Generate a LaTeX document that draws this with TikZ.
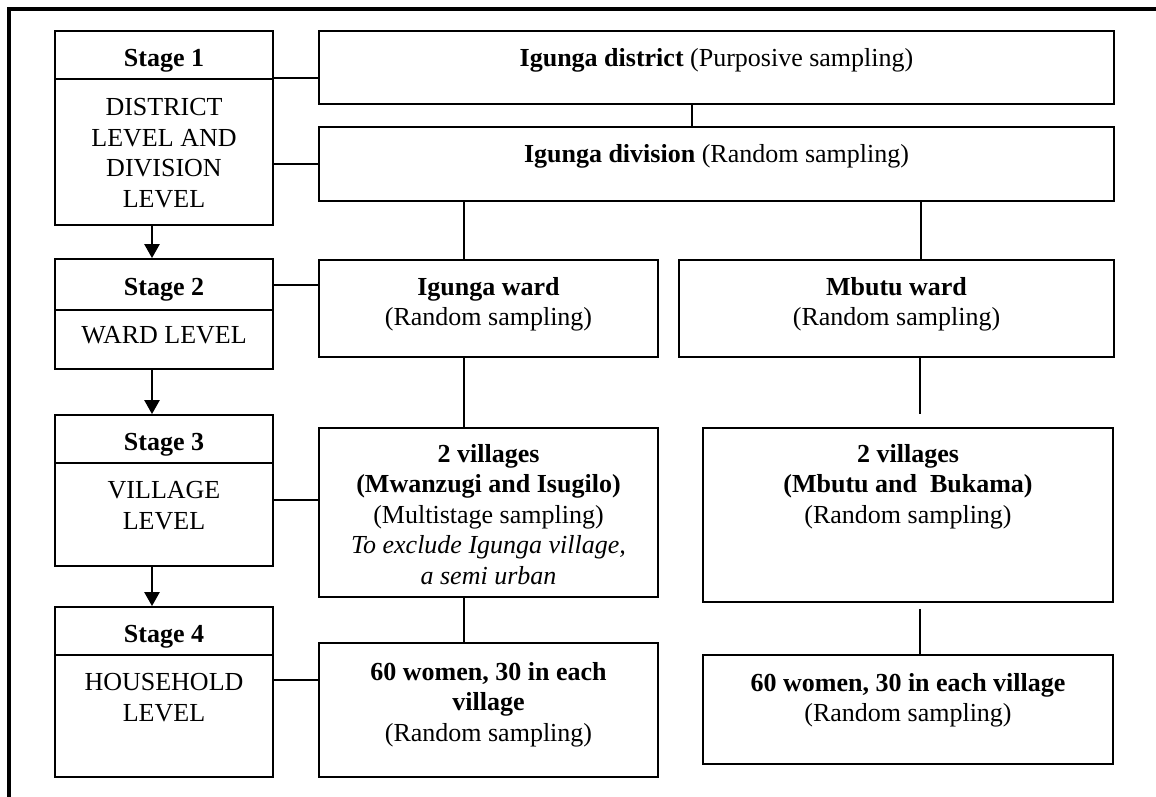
\documentclass[tikz,border=0pt]{standalone}
\usepackage{fontspec}
\setmainfont{Liberation Serif}
\usepackage{tikz}
\usetikzlibrary{arrows.meta}

\tikzset{
    box/.style={draw, rectangle, line width=1.8pt, inner sep=0pt},
    stagebox/.style={box, minimum width=218pt},
    stagehead/.style={stagebox, text height=22pt, text depth=0pt},
    txt/.style={anchor=north, align=center, inner sep=0pt},
    link/.style={line width=2pt},
    down/.style={line width=2.4pt, -{Triangle[width=15pt,length=14pt]}},
    frame/.style={line width=4pt}
}

\begin{document}
\begin{tikzpicture}[x=1pt, y=-1pt, every node/.style={font=\fontsize{26}{30.5}\selectfont}]
        \useasboundingbox (0,0) rectangle (1156,796);
        \draw[frame] (8.5,800) -- (8.5,8.5) -- (1160,8.5);

        \node[stagehead, minimum height=48pt] (s1h) at (164,55) {\textbf{Stage 1}};
        \node[stagebox, minimum height=146pt] (s1b) at (164,152) {};
        \node[stagehead, minimum height=51pt] (s2h) at (164,284.5) {\textbf{Stage 2}};
        \node[stagebox, minimum height=59pt] (s2b) at (164,339.5) {};
        \node[stagehead, minimum height=48pt] (s3h) at (164,439) {\textbf{Stage 3}};
        \node[stagebox, minimum height=103pt] (s3b) at (164,514.5) {};
        \node[stagehead, minimum height=48pt] (s4h) at (164,631) {\textbf{Stage 4}};
        \node[stagebox, minimum height=122pt] (s4b) at (164,716) {};

        \node[txt] (s1t) at ([yshift=-20pt]s1b.north) {DISTRICT\\LEVEL AND\\DIVISION\\LEVEL};
        \node[txt] (s2t) at ([yshift=-17pt]s2b.north) {WARD LEVEL};
        \node[txt] (s3t) at ([yshift=-19pt]s3b.north) {VILLAGE\\LEVEL};
        \node[txt] (s4t) at ([yshift=-19pt]s4b.north) {HOUSEHOLD\\LEVEL};

        \node[box, minimum width=795pt, minimum height=73pt] (dist) at (716.5,67.5) {};
        \node[box, minimum width=795pt, minimum height=74pt] (div) at (716.5,164) {};
        \node[box, minimum width=339pt, minimum height=97pt] (iward) at (488.5,308.5) {};
        \node[box, minimum width=435pt, minimum height=97pt] (mward) at (896.5,308.5) {};
        \node[box, minimum width=339pt, minimum height=169pt] (vilL) at (488.5,512.5) {};
        \node[box, minimum width=410pt, minimum height=174pt] (vilR) at (908,515) {};
        \node[box, minimum width=339pt, minimum height=134pt] (womL) at (488.5,710) {};
        \node[box, minimum width=410pt, minimum height=109pt] (womR) at (908,709.5) {};

        \node[txt] (distt) at ([yshift=-18pt]dist.north) {\textbf{Igunga district} (Purposive sampling)};
        \node[txt] (divt) at ([yshift=-18pt]div.north) {\textbf{Igunga division} (Random sampling)};
        \node[txt] (iwardt) at ([yshift=-18pt]iward.north) {\textbf{Igunga ward}\\(Random sampling)};
        \node[txt] (mwardt) at ([yshift=-18pt]mward.north) {\textbf{Mbutu ward}\\(Random sampling)};
        \node[txt] (vilLt) at ([yshift=-17pt]vilL.north) {\textbf{2 villages}\\\textbf{(Mwanzugi and Isugilo)}\\(Multistage sampling)\\\textit{To exclude Igunga village,}\\\textit{a semi urban}};
        \node[txt] (vilRt) at ([yshift=-17pt]vilR.north) {\textbf{2 villages}\\\textbf{(Mbutu and\ \ Bukama)}\\(Random sampling)};
        \node[txt] (womLt) at ([yshift=-20pt]womL.north) {\textbf{60 women, 30 in each}\\\textbf{village}\\(Random sampling)};
        \node[txt] (womRt) at ([yshift=-19pt]womR.north) {\textbf{60 women, 30 in each village}\\(Random sampling)};

        \draw[down] ([xshift=-12pt]s1b.south) -- ([xshift=-12pt]s2h.north);
        \draw[down] ([xshift=-12pt]s2b.south) -- ([xshift=-12pt]s3h.north);
        \draw[down] ([xshift=-12pt]s3b.south) -- ([xshift=-12pt]s4h.north);

        \draw[link] (s1b.north east) -- (s1b.north east -| dist.west);
        \draw[link] (div.west -| s1b.east) -- (div.west);
        \draw[link] (s2h.east) -- (s2h.east -| iward.west);
        \draw[link] (s3b.east |- 0,500) -- (vilL.west |- 0,500);
        \draw[link] (s4b.east |- 0,680) -- (womL.west |- 0,680);

        \draw[link] (dist.south -| 692,0) -- (div.north -| 692,0);
        \draw[link] (div.south -| 464,0) -- (iward.north -| 464,0);
        \draw[link] (div.south -| 921,0) -- (mward.north -| 921,0);
        \draw[link] (iward.south -| 464,0) -- (vilL.north -| 464,0);
        \draw[link, shorten >=13pt] (mward.south -| 920,0) -- (vilR.north -| 920,0);
        \draw[link] (vilL.south -| 464,0) -- (womL.north -| 464,0);
        \draw[link, shorten <=6pt] (vilR.south -| 920,0) -- (womR.north -| 920,0);
    \end{tikzpicture}
\end{document}
